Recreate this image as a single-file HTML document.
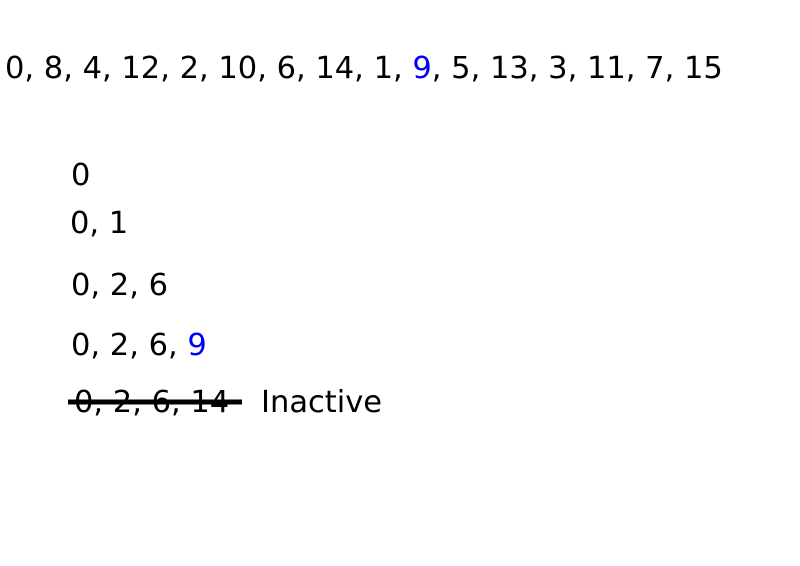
<!DOCTYPE html>
<html>
<head>
<meta charset="utf-8">
<style>
html,body{margin:0;padding:0;background:#fff;}
svg{display:block;}
text{font-family:"DejaVu Sans","Liberation Sans",sans-serif;font-size:30.5px;fill:#000;}
</style>
</head>
<body>
<svg width="800" height="566" viewBox="0 0 800 566" xmlns="http://www.w3.org/2000/svg">
<text x="5" y="78">0, 8, 4, 12, 2, 10, 6, 14, 1, <tspan fill="#0000ff">9</tspan>, 5, 13, 3, 11, 7, 15</text>
<text x="71" y="185">0</text>
<text x="70" y="233">0, 1</text>
<text x="71" y="295">0, 2, 6</text>
<text x="71" y="355">0, 2, 6, <tspan fill="#0000ff">9</tspan></text>
<text x="74" y="412">0, 2, 6, 14</text>
<line x1="68" y1="402" x2="242" y2="402" stroke="#000" stroke-width="5"/>
<text x="261" y="412">Inactive</text>
</svg>
</body>
</html>
